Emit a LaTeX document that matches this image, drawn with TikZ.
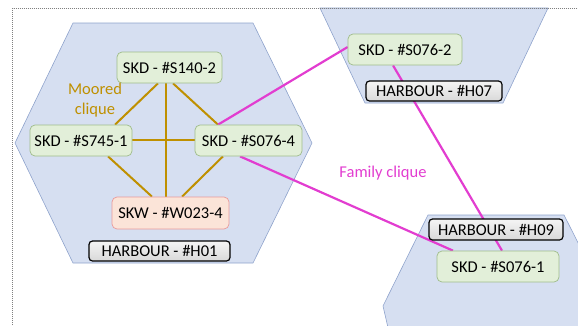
\documentclass[tikz,border=0pt]{standalone}
\usepackage{fontspec}
\setmainfont{Carlito}
\definecolor{hexfill}{HTML}{D6DFF1}
\definecolor{hexline}{HTML}{8FA3CC}
\definecolor{gfill}{HTML}{E2EFD9}
\definecolor{gline}{HTML}{9FBC8A}
\definecolor{rfill}{HTML}{FBE4D8}
\definecolor{rline}{HTML}{E99A9A}
\definecolor{gold}{HTML}{BF9000}
\definecolor{mag}{HTML}{E23DD0}
\pgfdeclarelayer{hexes}
\pgfdeclarelayer{links}
\pgfsetlayers{hexes,links,main}
\tikzset{
  hexa/.style={fill=hexfill,draw=hexline,line width=0.6pt},
  shipbox/.style={rectangle,rounded corners=5pt,fill=gfill,draw=gline,line width=0.7pt,inner sep=0pt,font=\fontsize{16.5}{19}\selectfont},
  wbox/.style={shipbox,fill=rfill,draw=rline},
  harbbox/.style={rectangle,rounded corners=3.5pt,top color=gray!8,bottom color=gray!30,draw=black,line width=1.2pt,inner sep=0pt,font=\fontsize{16.5}{19}\selectfont},
  moor/.style={draw=gold,line width=2pt},
  fam/.style={draw=mag,line width=2.2pt},
  lbl/.style={font=\fontsize{16.5}{20}\selectfont,align=center,inner sep=0pt}
}
\begin{document}
\begin{tikzpicture}[x=1pt,y=-1pt]
\useasboundingbox (0,0) rectangle (578,325);
\begin{pgfonlayer}{hexes}
\begin{scope}
\clip (0,0) rectangle (578,325);
\path[hexa] (73,23) -- (253,23) -- (312,143) -- (253,263) -- (73,263) -- (15,143) -- cycle;
\path[hexa] (320,8) -- (548,8) -- (503,103) -- (365,103) -- cycle;
\path[hexa] (428,215) -- (564,215) -- (610,306) -- (600,345) -- (392,345) -- (383,306) -- cycle;
\draw[gray,dash pattern=on 1pt off 1pt,line width=0.6pt] (12.5,325) -- (12.5,8) -- (578,8);
\end{scope}
\end{pgfonlayer}
% nodes
\node[shipbox,minimum width=105pt,minimum height=31pt] (s140) at (169.5,67.5) {SKD - \#S140-2};
\node[shipbox,minimum width=102pt,minimum height=31pt] (s745) at (81,140.5) {SKD - \#S745-1};
\node[shipbox,minimum width=107pt,minimum height=31pt] (s0764) at (248.5,140.5) {SKD - \#S076-4};
\node[wbox,minimum width=117pt,minimum height=32pt] (w023) at (170.5,213) {SKW - \#W023-4};
\node[shipbox,minimum width=114pt,minimum height=31pt] (s0762) at (405,49.5) {SKD - \#S076-2};
\node[shipbox,minimum width=122pt,minimum height=31pt] (s0761) at (498,266.5) {SKD - \#S076-1};
\node[harbbox,minimum width=141pt,minimum height=20pt] (h01) at (159.5,251) {HARBOUR - \#H01};
\node[harbbox,minimum width=136pt,minimum height=20pt] (h07) at (434,91) {HARBOUR - \#H07};
\node[harbbox,minimum width=134pt,minimum height=21pt] (h09) at (496,229.5) {HARBOUR - \#H09};
\node[lbl,text=gold] (moorlbl) at (95,100) {Moored\\clique};
\node[lbl,text=mag] (famlbl) at (383,173) {Family clique};
\begin{pgfonlayer}{links}
\path[moor] ([xshift=-11.5pt]s140.south) -- ([xshift=34pt]s745.north);
\path[moor] ([xshift=3.5pt]s140.south) -- ([xshift=-30.5pt]s0764.north);
\path[moor] ([xshift=-3.5pt]s140.south) -- ([xshift=-4.5pt]w023.north);
\path[moor] ([yshift=0.5pt]s745.east) -- ([yshift=0.5pt]s0764.west);
\path[moor] ([xshift=27pt]s745.south) -- ([xshift=-18.5pt]w023.north);
\path[moor] ([xshift=-25.5pt]s0764.south) -- ([xshift=11.5pt]w023.north);
\path[fam] ([xshift=-30.5pt]s0764.north) -- ([yshift=2.5pt]s0762.west);
\path[fam] ([xshift=-8.5pt]s0764.south) -- ([xshift=-45pt]s0761.north);
\path[fam] ([xshift=-12pt]s0762.south) -- ([xshift=4pt]s0761.north);
\end{pgfonlayer}
\end{tikzpicture}
\end{document}
